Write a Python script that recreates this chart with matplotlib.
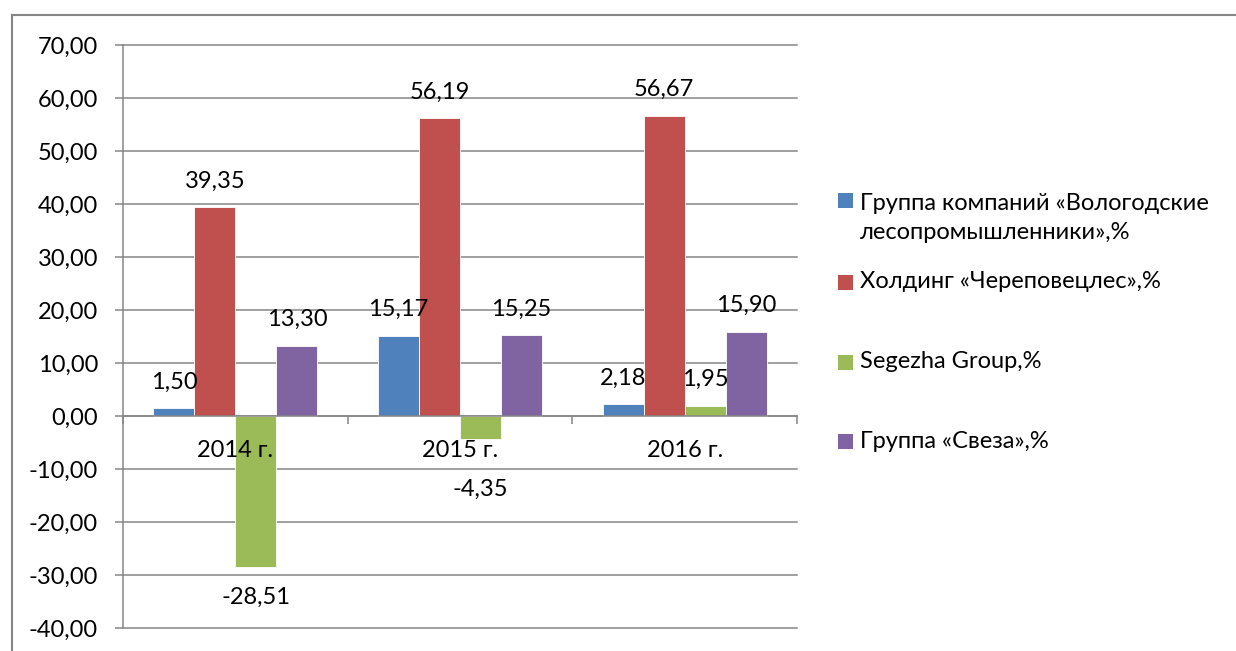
import numpy as np
import matplotlib
matplotlib.use("Agg")
import matplotlib.pyplot as plt
from matplotlib.lines import Line2D
from matplotlib.patches import Rectangle
from matplotlib.ticker import FuncFormatter, FixedLocator

# data
years = ["2014 г.", "2015 г.", "2016 г."]
series_names = [
    "Группа компаний «Вологодские\nлесопромышленники»,%",
    "Холдинг «Череповецлес»,%",
    "Segezha Group,%",
    "Группа «Свеза»,%",
]
vologda = [1.50, 15.17, 2.18]
cherepovets = [39.35, 56.19, 56.67]
segezha = [-28.51, -4.35, 1.95]
sveza = [13.30, 15.25, 15.90]
colors = ["#4F81BD", "#C0504D", "#9BBB59", "#8064A2"]

plt.rcParams["font.family"] = ["Lato", "DejaVu Sans"]
fs = 17
grey = "#868686"

W, H = 1236, 651
fig = plt.figure(figsize=(W / 100, H / 100), dpi=100)

def fx(px):
    return px / W

def fy(py):
    return 1 - py / H

ax = fig.add_axes([fx(123), fy(628), fx(797) - fx(123), fy(45) - fy(628)])

x = np.arange(len(years))
bw = 0.1825
all_series = [vologda, cherepovets, segezha, sveza]
for j, vals in enumerate(all_series):
    pos = x + (j - 1.5) * bw
    ax.bar(pos, vals, width=bw, color=colors[j], edgecolor="white", linewidth=0.6, zorder=3)
    for xp, v in zip(pos, vals):
        lab = f"{v:.2f}".replace(".", ",")
        # labels above positive bars, below negative ones (kept clear of category labels)
        ly = v + 4.9 if v >= 0 else min(v - 5.8, -13.8)
        ax.text(xp, ly, lab, ha="center", va="center", fontsize=fs, color="black", zorder=6)

ax.set_xlim(-0.5, 2.5)
ax.set_ylim(-40, 70)
ax.set_yticks(np.arange(-40, 71, 10))
ax.yaxis.set_major_formatter(FuncFormatter(lambda v, p: f"{v:.2f}".replace(".", ",")))
ax.yaxis.grid(True, color=grey, linewidth=1.1)
for gl in ax.get_ygridlines():
    gl.set_clip_on(False)
ax.set_axisbelow(True)
ax.xaxis.set_zorder(5)

ax.spines["top"].set_visible(False)
ax.spines["right"].set_visible(False)
ax.spines["left"].set_color(grey)
ax.spines["left"].set_linewidth(1.1)
ax.spines["bottom"].set_position(("data", 0))
ax.spines["bottom"].set_color(grey)
ax.spines["bottom"].set_linewidth(1.1)
ax.spines["bottom"].set_zorder(4)

ax.set_xticks(x)
ax.set_xticklabels(years)
ax.xaxis.set_minor_locator(FixedLocator([-0.5, 0.5, 1.5, 2.5]))
ax.tick_params(axis="x", which="major", length=0, pad=17, labelsize=fs)
ax.tick_params(axis="x", which="minor", length=6, width=1.1, color=grey, direction="out")
ax.tick_params(axis="y", length=6, width=1.1, color=grey, pad=12, labelsize=fs)

# outer chart frame (only top and left edges visible)
fig.add_artist(Line2D([fx(12), fx(12)], [fy(15), 0], color=grey, linewidth=1.5))
fig.add_artist(Line2D([fx(12), 1], [fy(15), fy(15)], color=grey, linewidth=1.5))

# legend
leg_y = [218, 282, 362, 441]
sq = 15
for j, name in enumerate(series_names):
    sy = 200 if j == 0 else leg_y[j]
    fig.add_artist(Rectangle((fx(838), fy(sy + sq / 2)), fx(sq), sq / H,
                             transform=fig.transFigure, facecolor=colors[j], edgecolor="none"))
    fig.text(fx(860), fy(leg_y[j]), name, ha="left", va="center", fontsize=fs,
             linespacing=1.5, color="black")

fig.savefig("out.png", dpi=100, facecolor="white")
